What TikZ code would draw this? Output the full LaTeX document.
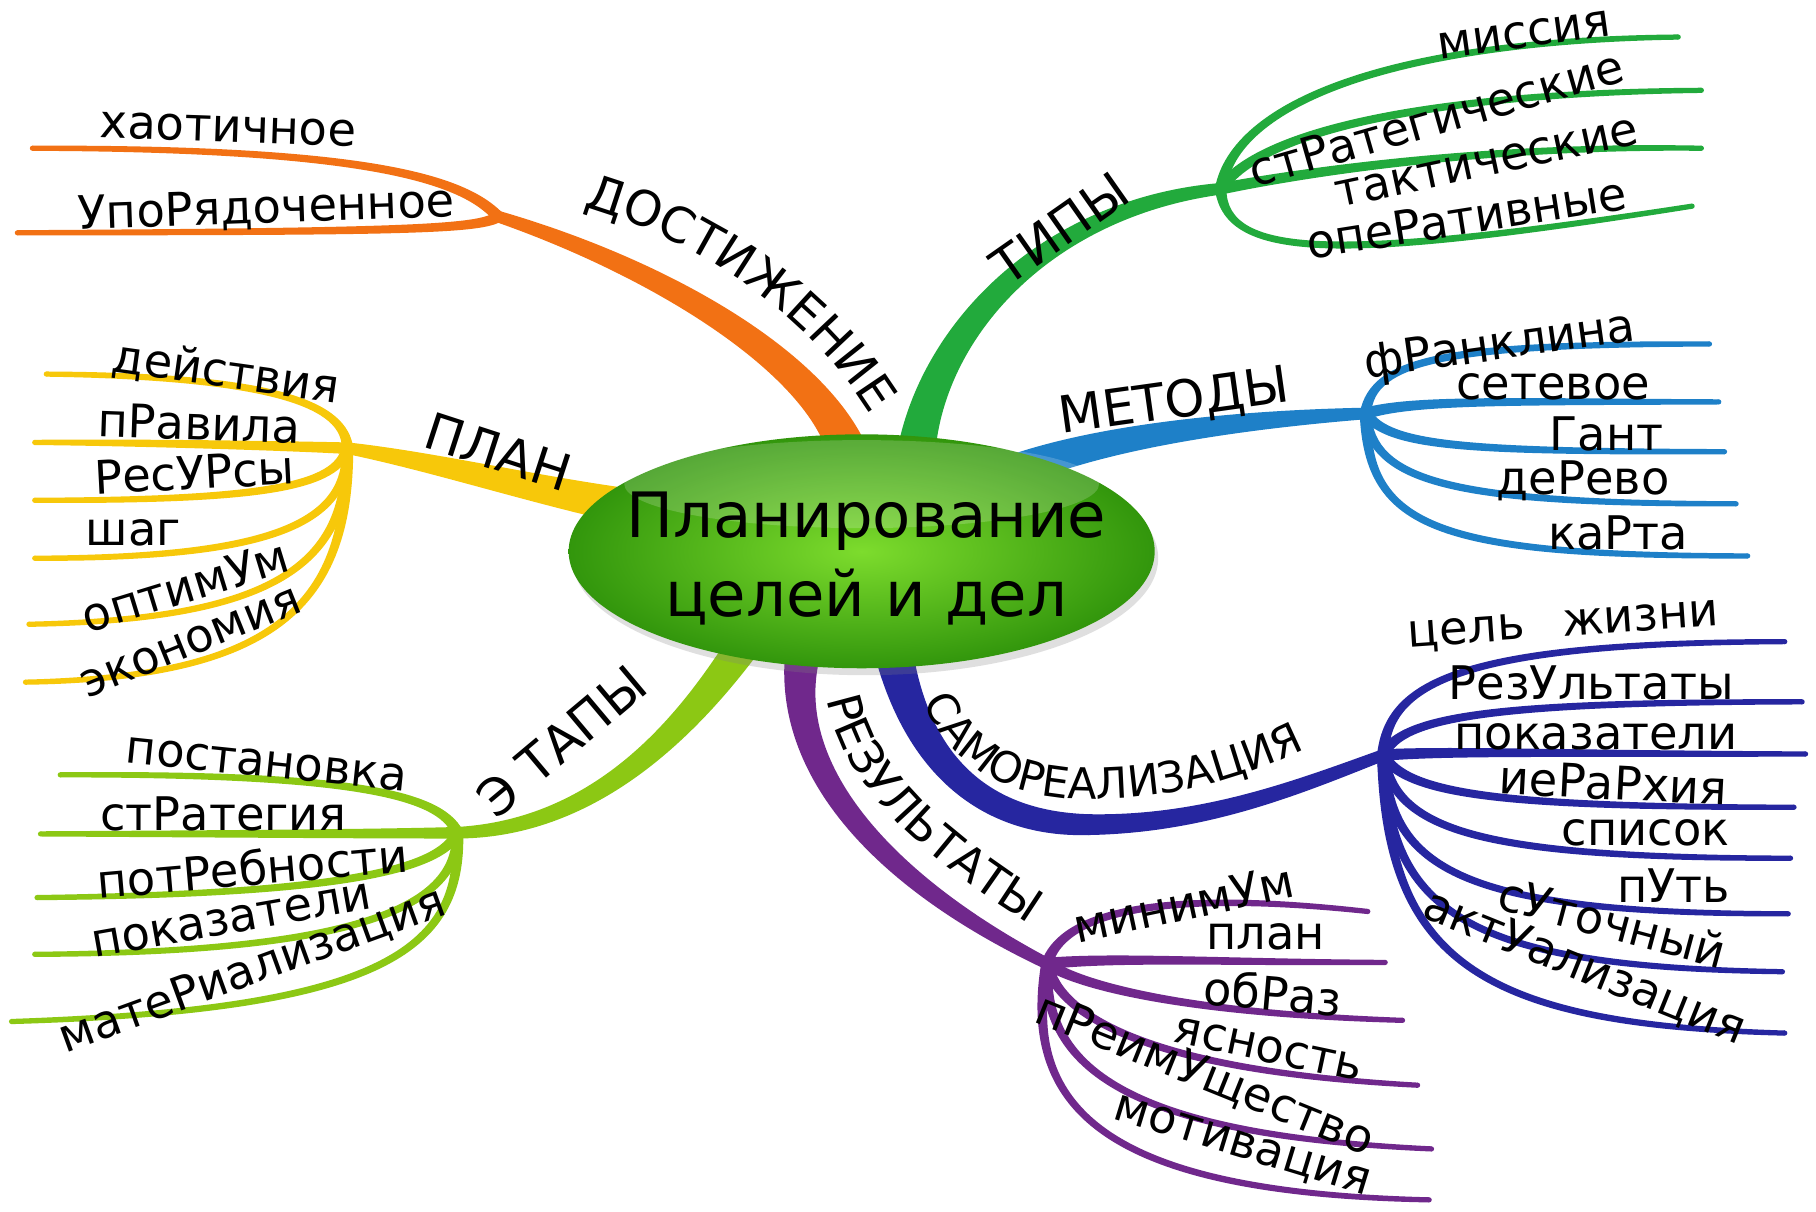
\documentclass[tikz,border=0pt]{standalone}
\usepackage{fontspec}
\setmainfont{DejaVu Sans}
\usetikzlibrary{calc,shapes.geometric,decorations.text,shadows}
\definecolor{cOr}{RGB}{242,113,20}
\definecolor{cYe}{RGB}{247,200,10}
\definecolor{cLi}{RGB}{140,200,20}
\definecolor{cGr}{RGB}{34,170,60}
\definecolor{cBl}{RGB}{30,128,200}
\definecolor{cIn}{RGB}{38,38,160}
\definecolor{cPu}{RGB}{112,40,140}
% tapered bezier: #1 start, #2 c1, #3 c2, #4 end, #5 start width, #6 end width, #7 colour
\newcommand\taper[7]{%
  \fill[#7] ($(#1)!#5/2!90:(#2)$)
    .. controls ($(#2)!{(2*#5+#6)/6}!90:(#3)$) and ($(#3)!{(#5+2*#6)/6}!90:(#4)$)
    .. ($(#4)!#6/2!-90:(#3)$)
    -- ($(#4)!#6/2!90:(#3)$)
    .. controls ($(#3)!{(#5+2*#6)/6}!-90:(#4)$) and ($(#2)!{(2*#5+#6)/6}!-90:(#3)$)
    .. ($(#1)!#5/2!-90:(#2)$) -- cycle;
  \fill[#7] (#4) circle[radius=#6/2];}
\newcommand\sub[4]{\taper{#1}{#2}{#3}{#4}{10pt}{4.5pt}}
\begin{document}
\begin{tikzpicture}[x=1pt,y=-1pt,
  lbl/.style={font=\fontsize{40}{44}\selectfont, inner sep=0pt, anchor=center},
  caplbl/.style={font=\fontsize{44}{48}\selectfont, inner sep=0pt, anchor=center}]
\useasboundingbox[fill=white] (0,0) rectangle (1568,1046);

% ---------- hubs, bases, ends ----------
\coordinate (oB) at (735,400);  \coordinate (oH) at (430,187);
\coordinate (yB) at (530,435);  \coordinate (yH) at (300,387);
\coordinate (lB) at (650,545);  \coordinate (lH) at (395,719);
\coordinate (gB) at (790,400);  \coordinate (gH) at (1054,163);
\coordinate (bB) at (880,405);  \coordinate (bH) at (1179,357);
\coordinate (iB) at (770,555);  \coordinate (iM) at (940,712); \coordinate (iH) at (1194,652);
\coordinate (pB) at (695,555);  \coordinate (pH) at (904,832);

% ---------- main branches ----------
\taper{oB}{715,320}{580,235}{oH}{36pt}{10pt}{cOr}
\taper{yB}{450,420}{370,398}{yH}{30pt}{10pt}{cYe}
\taper{lB}{600,620}{520,715}{lH}{30pt}{10pt}{cLi}
\taper{gB}{800,290}{900,180}{gH}{34pt}{10pt}{cGr}
\taper{bB}{960,375}{1080,362}{bH}{28pt}{10pt}{cBl}
\taper{iB}{790,660}{850,712}{iM}{34pt}{18pt}{cIn}
\taper{iM}{1040,712}{1120,680}{iH}{18pt}{10pt}{cIn}
\taper{pB}{670,660}{760,760}{pH}{32pt}{10pt}{cPu}

% ---------- orange subs ----------
\coordinate (o1) at (28,128);  \coordinate (o2) at (15,201);
\sub{oH}{400,155}{320,128}{o1}{cOr}
\sub{oH}{415,198}{350,200}{o2}{cOr}
% ---------- yellow subs ----------
\coordinate (y1) at (40,323); \coordinate (y2) at (30,382); \coordinate (y3) at (30,432);
\coordinate (y4) at (30,482); \coordinate (y5) at (25,539); \coordinate (y6) at (22,589);
\sub{yH}{298,350}{240,325}{y1}{cYe}
\sub{yH}{250,385}{120,382}{y2}{cYe}
\sub{yH}{290,420}{230,432}{y3}{cYe}
\sub{yH}{300,450}{240,482}{y4}{cYe}
\sub{yH}{300,480}{250,535}{y5}{cYe}
\sub{yH}{302,520}{240,585}{y6}{cYe}
% ---------- lime subs ----------
\coordinate (l1) at (52,669); \coordinate (l2) at (35,720); \coordinate (l3) at (32,775);
\coordinate (l4) at (30,824); \coordinate (l5) at (10,882);
\sub{lH}{380,685}{300,668}{l1}{cLi}
\sub{lH}{330,720}{200,720}{l2}{cLi}
\sub{lH}{380,750}{300,772}{l3}{cLi}
\sub{lH}{395,780}{320,822}{l4}{cLi}
\sub{lH}{400,820}{330,872}{l5}{cLi}
% ---------- green subs ----------
\coordinate (g1) at (1449,32); \coordinate (g2) at (1469,78);
\coordinate (g3) at (1469,128); \coordinate (g4) at (1461,178);
\sub{gH}{1065,90}{1200,35}{g1}{cGr}
\sub{gH}{1090,110}{1250,80}{g2}{cGr}
\sub{gH}{1120,150}{1280,125}{g3}{cGr}
\sub{gH}{1058,225}{1160,225}{g4}{cGr}
% ---------- blue subs ----------
\coordinate (b1) at (1476,297); \coordinate (b2) at (1484,347); \coordinate (b3) at (1489,390);
\coordinate (b4) at (1499,435); \coordinate (b5) at (1509,480);
\sub{bH}{1185,310}{1250,297}{b1}{cBl}
\sub{bH}{1220,345}{1300,347}{b2}{cBl}
\sub{bH}{1200,385}{1260,390}{b3}{cBl}
\sub{bH}{1185,415}{1250,435}{b4}{cBl}
\sub{bH}{1180,455}{1240,480}{b5}{cBl}
% ---------- indigo subs ----------
\coordinate (i1) at (1541,554); \coordinate (i2) at (1556,606); \coordinate (i3) at (1559,651);
\coordinate (i4) at (1549,697); \coordinate (i5) at (1546,741); \coordinate (i6) at (1544,789);
\coordinate (i7) at (1539,839); \coordinate (i8) at (1541,892);
\sub{iH}{1198,590}{1260,555}{i1}{cIn}
\sub{iH}{1210,620}{1280,606}{i2}{cIn}
\sub{iH}{1250,648}{1350,651}{i3}{cIn}
\sub{iH}{1215,685}{1290,697}{i4}{cIn}
\sub{iH}{1205,715}{1270,741}{i5}{cIn}
\sub{iH}{1200,750}{1260,789}{i6}{cIn}
\sub{iH}{1198,790}{1270,835}{i7}{cIn}
\sub{iH}{1196,830}{1280,885}{i8}{cIn}
% ---------- purple subs ----------
\coordinate (p1) at (1181,787); \coordinate (p2) at (1196,831); \coordinate (p3) at (1211,881);
\coordinate (p4) at (1224,937); \coordinate (p5) at (1236,992); \coordinate (p6) at (1234,1036);
\sub{pH}{915,795}{980,765}{p1}{cPu}
\sub{pH}{960,826}{1060,831}{p2}{cPu}
\sub{pH}{930,850}{1020,875}{p3}{cPu}
\sub{pH}{915,880}{1000,925}{p4}{cPu}
\sub{pH}{900,920}{970,980}{p5}{cPu}
\sub{pH}{880,960}{960,1030}{p6}{cPu}

% ---------- central ellipse ----------
\node[ellipse, minimum width=506pt, minimum height=202pt, inner sep=0pt,
  inner color={rgb,255:red,125;green,220;blue,45}, outer color={rgb,255:red,50;green,150;blue,12},
  drop shadow={opacity=0.25, shadow xshift=3pt, shadow yshift=-6pt}] (center) at (744,476) {};
\fill[white, opacity=0.18] (744,418) ellipse [x radius=205pt, y radius=38pt];
\node[font=\fontsize{54}{68}\selectfont, align=center, inner sep=0pt] (ctext) at (748,482) {Планирование\\целей и дел};

% ---------- curved labels ----------
\path[decorate, decoration={text along path, text align=center,
  text={|\fontsize{42}{46}\selectfont|ДОСТИЖЕНИЕ}}]
  (488,174) .. controls (590,200) and (700,265) .. (760,372);
\path[decorate, decoration={text along path, text align=center,
  text={|\fontsize{37}{40}\selectfont|САМОРЕАЛИЗАЦИЯ}}]
  (788,582) .. controls (812,662) and (870,692) .. (950,690) .. controls (1030,688) and (1095,665) .. (1150,634);
\path[decorate, decoration={text along path, text align=center,
  text={|\fontsize{40}{44}\selectfont|РЕЗУЛЬТАТЫ}}]
  (712,590) .. controls (722,680) and (800,742) .. (900,805);

% ---------- straight labels ----------
\node[caplbl, rotate=-18] (nPlan) at (430,390) {ПЛАН};
\node[caplbl, rotate=40] (nEtap) at (485,640) {Э ТАПЫ};
\node[caplbl, rotate=35] (nTip) at (915,197) {ТИПЫ};
\node[caplbl, rotate=8] (nMet) at (1014,348) {МЕТОДЫ};

\node[lbl, rotate=-2] (a1) at (197,112) {хаотичное};
\node[lbl, rotate=2] (a2) at (230,181) {УпоРядоченное};

\node[lbl, rotate=-8] (c1) at (195,322) {действия};
\node[lbl, rotate=-2] (c2) at (172,366) {пРавила};
\node[lbl, rotate=3] (c3) at (168,408) {РесУРсы};
\node[lbl] (c4) at (115,460) {шаг};
\node[lbl, rotate=17] (c5) at (160,506) {оптимУм};
\node[lbl, rotate=22] (c6) at (165,555) {экономия};

\node[lbl, rotate=-6] (d1) at (230,660) {постановка};
\node[lbl] (d2) at (193,703) {стРатегия};
\node[lbl, rotate=5] (d3) at (218,749) {потРебности};
\node[lbl, rotate=10] (d4) at (200,795) {показатели};
\node[lbl, rotate=20] (d5) at (218,838) {матеРиализация};

\node[lbl, rotate=8] (e1) at (1316,30) {миссия};
\node[lbl, rotate=16] (e2) at (1240,102) {стРатегические};
\node[lbl, rotate=12] (e3) at (1284,141) {тактические};
\node[lbl, rotate=9] (e4) at (1266,188) {опеРативные};

\node[lbl, rotate=8] (f1) at (1295,300) {фРанклина};
\node[lbl] (f2) at (1341,334) {сетевое};
\node[lbl] (f3) at (1387,375) {Гант};
\node[lbl] (f4) at (1367,415) {деРево};
\node[lbl] (f5) at (1397,460) {каРта};

\node[lbl, rotate=4] (h1) at (1350,541) {цель\hspace{0.5em} жизни};
\node[lbl] (h2) at (1374,590) {РезУльтаты};
\node[lbl] (h3) at (1378,636) {показатели};
\node[lbl, rotate=-3] (h4) at (1393,676) {иеРаРхия};
\node[lbl] (h5) at (1421,719) {список};
\node[lbl] (h6) at (1445,765) {пУть};
\node[lbl, rotate=-15] (h7) at (1392,796) {сУточный};
\node[lbl, rotate=-22] (h8) at (1368,836) {актУализация};

\node[lbl, rotate=12] (k1) at (1022,780) {минимУм};
\node[lbl] (k2) at (1093,809) {план};
\node[lbl, rotate=-5] (k3) at (1099,857) {обРаз};
\node[lbl, rotate=-12] (k4) at (1095,906) {ясность};
\node[lbl, rotate=-22] (k5) at (1040,929) {пРеимУщество};
\node[lbl, rotate=-17] (k6) at (1072,991) {мотивация};
\end{tikzpicture}
\end{document}
